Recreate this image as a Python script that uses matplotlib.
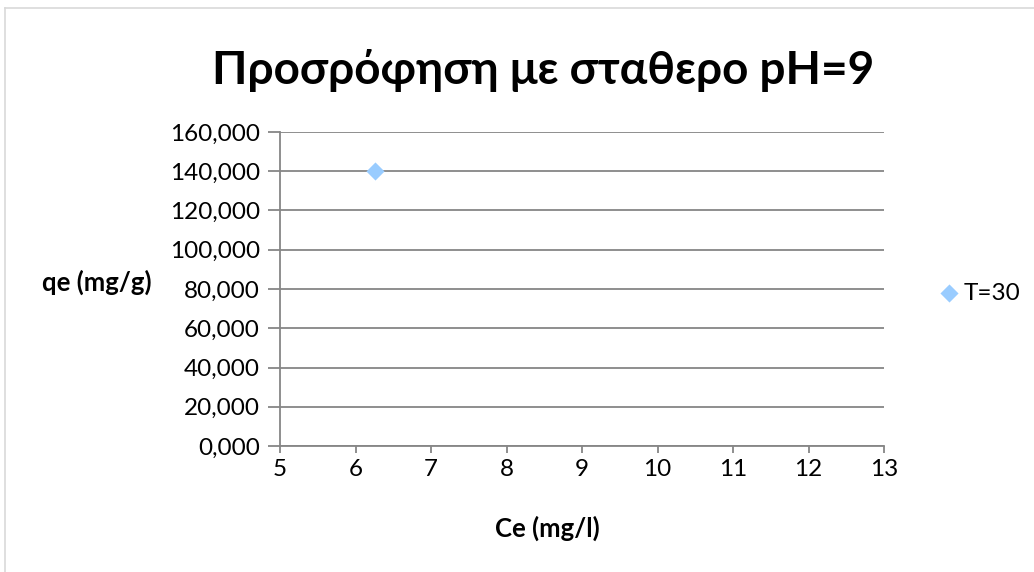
import numpy as np
import matplotlib.pyplot as plt
from matplotlib.lines import Line2D
from matplotlib.ticker import FuncFormatter

# data
ce_values = [6.26]
qe_values = [140.3]
series_name = "T=30"

title_text = "Προσρόφηση με σταθερο pH=9"
xlabel_text = "Ce (mg/l)"
ylabel_text = "qe (mg/g)"

x_ticks = [5, 6, 7, 8, 9, 10, 11, 12, 13]
y_ticks = [0, 20, 40, 60, 80, 100, 120, 140, 160]

FONT = ["Lato", "Noto Sans", "DejaVu Sans"]
plt.rcParams["font.family"] = FONT

GRID = "#868686"
MARKER = "#99CCFF"


def comma_fmt(v, pos):
    return f"{v:.3f}".replace(".", ",")


def main():
    fig = plt.figure(figsize=(10.34, 5.72), dpi=100)
    ax = fig.add_axes([280 / 1034, 1 - 446 / 572, 604 / 1034, 314 / 572])

    ax.scatter(ce_values, qe_values, marker="D", s=85, color=MARKER,
               zorder=3, label=series_name, linewidths=0)

    ax.set_xlim(5, 13)
    ax.set_ylim(0, 160)
    ax.set_xticks(x_ticks)
    ax.set_yticks(y_ticks)
    ax.yaxis.set_major_formatter(FuncFormatter(comma_fmt))
    ax.yaxis.grid(True, color=GRID, linewidth=1.3)
    ax.set_axisbelow(True)

    for side in ["top", "right"]:
        ax.spines[side].set_visible(False)
    for side in ["left", "bottom"]:
        ax.spines[side].set_color(GRID)
        ax.spines[side].set_linewidth(1.3)

    ax.tick_params(axis="y", length=8.5, width=1.3, color=GRID, labelsize=17.5,
                   pad=6)
    ax.tick_params(axis="x", length=5, width=1.3, color=GRID, labelsize=17.5,
                   pad=4)

    fig.text(543 / 1034, 1 - 70 / 572, title_text, ha="center", va="center",
             fontsize=33, fontweight="bold")
    fig.text(547 / 1034, 1 - 528 / 572, xlabel_text, ha="center",
             va="center", fontsize=18.5, fontweight="bold")
    fig.text(97 / 1034, 1 - 282 / 572, ylabel_text, ha="center",
             va="center", fontsize=18.5, fontweight="bold")

    fig.legend(loc="center left", bbox_to_anchor=(927 / 1034, 1 - 293 / 572),
               frameon=False, fontsize=17.5, handletextpad=0.1,
               handlelength=1.0, borderaxespad=0)

    # light chart border (top and left visible)
    fig.add_artist(Line2D([4.5 / 1034, 1.0], [1 - 7.5 / 572, 1 - 7.5 / 572],
                          color="#D9D9D9", linewidth=1.2))
    fig.add_artist(Line2D([4.5 / 1034, 4.5 / 1034], [0.0, 1 - 7.5 / 572],
                          color="#D9D9D9", linewidth=1.2))

    fig.savefig("out.png", dpi=100, facecolor="white")


if __name__ == "__main__":
    main()
